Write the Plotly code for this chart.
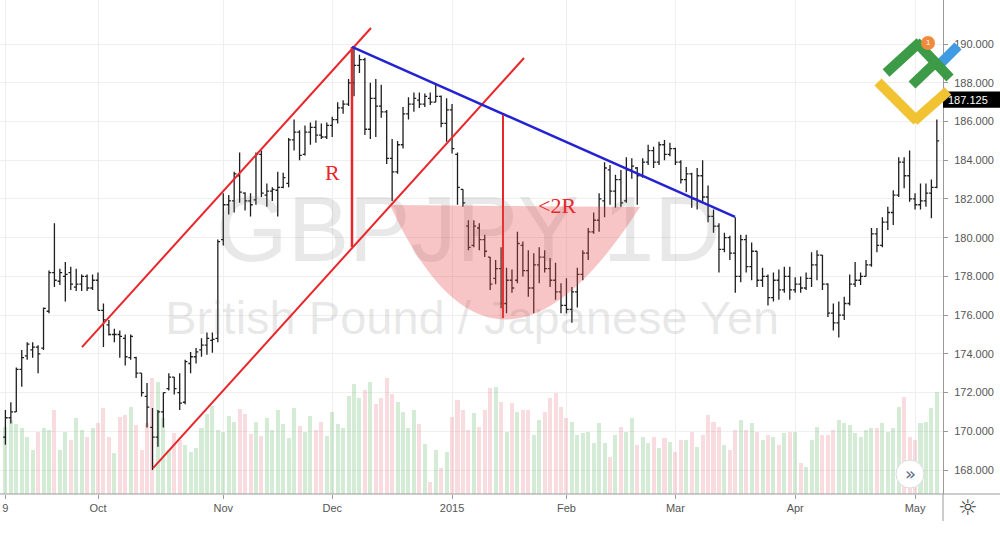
import pandas as pd
import plotly.graph_objects as go

# ---------------- data ----------------
days = pd.bdate_range("2014-09-08", "2015-05-07")
days = days[~days.isin(pd.to_datetime(["2014-12-25", "2015-01-01"]))]

open_ = [169.7, 170.7, 171.0, 173.2, 173.9, 174.2, 174.35, 174.3, 176.2, 178.2,
         177.75, 178.0, 178.2, 177.45, 177.6, 178.0, 177.4, 177.8, 176.25, 175.5,
         175.0, 175.0, 174.8, 173.8, 173.8, 173.0, 171.8, 170.2, 169.7, 171.0,
         172.2, 172.8, 172.0, 171.5, 173.5, 173.85, 174.2, 174.45, 174.7, 174.8,
         179.9, 181.7, 181.9, 183.2, 182.3, 181.9, 181.95, 184.3, 182.2, 182.4,
         182.45, 182.6, 182.8, 185.05, 185.45, 184.3, 185.45, 185.7, 185.3, 185.2,
         185.8, 186.1, 186.7, 186.9, 188.0, 188.9, 189.2, 185.6, 187.2, 186.8,
         186.5, 184.1, 183.4, 184.8, 186.4, 186.9, 187.1, 186.9, 187.2, 187.0,
         187.3, 185.9, 186.6, 184.3, 182.5, 180.6, 179.6, 180.5, 179.9, 179.0,
         177.9, 178.4, 176.6, 177.8, 177.8, 179.6, 178.3, 177.4, 178.6, 179.0,
         178.4, 177.8, 177.2, 176.5, 176.3, 177.2, 178.1, 179.2, 180.3, 180.9,
         181.9, 183.5, 182.4, 183.0, 181.9, 183.5, 183.6, 183.2, 183.9, 184.5,
         183.9, 184.8, 184.3, 184.6, 183.9, 183.0, 183.3, 182.0, 183.2, 182.1,
         181.1, 180.6, 179.4, 180.0, 179.2, 178.0, 179.9, 178.5, 179.3, 177.8,
         178.0, 176.9, 177.8, 177.3, 178.0, 177.3, 177.6, 177.4, 177.9, 178.6,
         179.1, 177.6, 176.1, 175.6, 176.0, 176.6, 177.6, 177.8, 178.0, 178.6,
         180.2, 179.6, 180.8, 181.3, 182.2, 183.9, 183.2, 182.0, 181.7, 181.9,
         182.3, 182.6]
high = [171.1, 171.5, 173.3, 174.2, 174.6, 174.6, 174.45, 176.4, 178.3, 180.75,
        178.4, 178.75, 178.5, 178.4, 178.1, 178.1, 178.1, 178.2, 176.6, 175.75,
        175.3, 175.2, 175.0, 175.0, 173.85, 173.0, 172.5, 171.2, 171.1, 172.0,
        173.0, 172.8, 173.0, 173.7, 174.1, 174.3, 174.8, 175.1, 175.1, 179.9,
        182.3, 182.2, 183.4, 184.4, 182.35, 182.3, 184.4, 184.5, 182.8, 182.6,
        183.4, 183.35, 185.15, 186.1, 185.55, 185.8, 185.95, 186.05, 185.9, 185.95,
        186.25, 187.0, 187.1, 188.2, 189.85, 189.45, 189.3, 188.0, 188.2, 187.9,
        186.6, 185.1, 185.0, 186.75, 187.25, 187.5, 187.5, 187.45, 187.5, 187.9,
        187.35, 187.2, 186.9, 184.4, 182.5, 180.9, 180.9, 180.75, 180.15, 179.0,
        178.85, 179.5, 178.45, 178.35, 180.3, 179.8, 179.35, 179.2, 179.5, 179.35,
        178.95, 178.7, 177.65, 177.9, 177.45, 178.45, 179.35, 180.5, 181.3, 182.3,
        183.9, 183.75, 183.25, 183.5, 184.15, 184.1, 183.65, 184.1, 184.8, 184.7,
        184.95, 185.05, 184.9, 184.65, 184.0, 183.65, 183.35, 183.6, 184.0, 182.7,
        181.45, 180.75, 180.25, 180.1, 181.05, 180.15, 180.15, 179.75, 179.3, 178.45,
        178.1, 178.2, 178.35, 178.5, 178.5, 177.95, 178.0, 178.2, 179.25, 179.35,
        179.1, 177.65, 176.6, 176.7, 176.95, 178.1, 178.75, 178.2, 178.85, 180.5,
        180.5, 181.05, 181.6, 182.45, 184.15, 184.15, 184.5, 182.3, 182.8, 182.8,
        183.0, 186.1]
low = [169.3, 170.4, 171.0, 172.3, 173.7, 173.8, 173.0, 174.2, 176.1, 177.45,
       177.55, 176.7, 177.3, 177.25, 177.25, 177.25, 177.3, 176.25, 174.35, 174.95,
       174.6, 173.8, 173.4, 173.7, 172.75, 171.8, 170.2, 168.0, 169.2, 170.2,
       172.1, 171.9, 171.1, 171.4, 173.0, 173.5, 173.85, 173.95, 174.05, 174.6,
       179.6, 181.2, 181.3, 181.8, 181.4, 181.1, 181.7, 182.1, 181.6, 181.9,
       181.1, 182.55, 182.6, 184.5, 184.0, 184.25, 184.8, 184.9, 185.1, 185.1,
       185.2, 185.9, 186.4, 186.8, 187.3, 188.5, 185.3, 185.1, 185.2, 186.2,
       183.8, 181.9, 183.3, 184.6, 186.1, 186.5, 186.7, 186.75, 186.85, 187.0,
       185.7, 184.95, 184.35, 181.7, 181.6, 179.35, 179.5, 179.35, 179.0, 177.3,
       177.6, 176.35, 176.1, 177.15, 177.65, 178.0, 176.95, 176.1, 177.65, 178.2,
       177.45, 176.8, 176.1, 176.1, 175.6, 176.4, 177.8, 178.85, 180.2, 180.3,
       181.05, 181.7, 181.55, 181.6, 181.8, 183.05, 181.7, 183.1, 183.75, 183.6,
       183.75, 184.0, 184.2, 183.75, 182.8, 182.35, 181.55, 181.45, 181.8, 180.8,
       180.25, 178.2, 179.25, 178.85, 177.15, 177.7, 178.2, 177.8, 177.45, 177.45,
       176.5, 176.7, 176.8, 177.15, 176.8, 177.15, 177.15, 177.3, 177.45, 177.8,
       177.3, 175.9, 175.2, 174.85, 175.75, 176.5, 177.45, 177.55, 178.0, 178.5,
       179.25, 179.5, 180.4, 180.65, 182.1, 182.55, 181.85, 181.45, 181.45, 181.6,
       181.0, 182.55]
close = [170.7, 171.0, 173.2, 173.8, 174.5, 174.35, 174.0, 176.35, 178.2, 177.8,
         178.2, 178.1, 177.6, 177.6, 178.0, 177.4, 177.8, 176.25, 175.75, 175.0,
         175.0, 174.9, 173.85, 174.9, 173.0, 172.0, 171.25, 169.7, 171.0, 172.0,
         172.8, 172.2, 171.45, 173.6, 173.85, 174.1, 174.45, 174.8, 174.75, 179.8,
         181.7, 181.9, 183.3, 182.35, 181.9, 181.7, 184.3, 182.3, 182.4, 182.5,
         182.6, 183.1, 185.05, 185.45, 184.25, 185.45, 185.7, 185.3, 185.2, 185.8,
         186.1, 186.7, 186.9, 188.0, 188.9, 189.2, 185.6, 187.2, 186.8, 186.5,
         184.1, 183.4, 184.8, 186.4, 186.9, 187.2, 186.9, 187.3, 187.0, 187.3,
         185.9, 186.6, 184.6, 182.6, 181.8, 179.5, 180.6, 179.9, 179.3, 177.6,
         178.4, 176.6, 177.8, 177.4, 179.7, 178.3, 177.4, 178.6, 179.0, 178.4,
         177.8, 177.2, 176.5, 176.3, 177.2, 178.1, 179.2, 180.3, 180.9, 182.0,
         183.6, 182.4, 183.0, 181.8, 183.5, 183.7, 183.2, 183.9, 184.5, 183.9,
         184.8, 184.3, 184.6, 183.9, 183.0, 183.3, 182.0, 183.2, 182.1, 181.1,
         180.6, 179.4, 180.0, 179.2, 178.0, 179.9, 178.5, 179.3, 177.8, 178.0,
         176.9, 177.8, 177.3, 178.0, 177.3, 177.6, 177.4, 177.9, 178.6, 179.1,
         177.6, 176.1, 175.6, 176.0, 176.6, 177.6, 177.8, 178.0, 178.6, 180.2,
         179.6, 180.8, 181.3, 182.2, 183.9, 183.2, 182.0, 181.7, 181.9, 182.3,
         182.6, 185.0]
volume = [67, 74, 70, 66, 57, 44, 62, 66, 64, 84, 44, 62, 54, 76, 64, 57, 66, 71,
          86, 57, 41, 77, 79, 87, 69, 44, 71, 116, 112, 76, 44, 61, 54, 49, 42, 46,
          66, 80, 88, 64, 62, 78, 72, 85, 80, 60, 72, 58, 76, 64, 84, 70, 56, 86,
          68, 62, 78, 64, 72, 58, 82, 70, 66, 98, 110, 96, 104, 112, 90, 96, 116,
          100, 92, 82, 66, 84, 70, 50,
          12, 44, 26, 42, 77, 94, 84, 64, 81, 67, 84, 106, 107, 92, 62, 91, 82, 84,
          84, 59, 74, 82, 96, 101, 87, 76, 72, 59, 61, 62, 51, 71, 51, 37, 59, 67,
          62, 76, 49, 57, 51,
          57, 46, 56, 52, 42, 54, 54, 62, 47, 59, 79, 72, 67, 49, 44, 64, 74, 64,
          71, 62, 54, 59, 57, 49, 61, 62, 62, 31, 27, 54, 67, 59, 59, 64, 74, 71,
          69, 61, 57, 64, 66, 66, 71, 62, 66, 87, 97, 57, 54, 71, 72, 86, 102]

last_price = 187.125
price_ticks = list(range(168, 191, 2))
month_labels = ["Oct", "Nov", "Dec", "2015", "Feb", "Mar", "Apr", "May"]
watermark = "GBPJPY 1D"
watermark_sub = "British Pound / Japanese Yen"

# drawings (bar index, price)
channel_upper = [(14.06, 174.35), (67.12, 190.83)]
channel_lower = [(27.10, 168.10), (95.21, 189.28)]
r_line = [(63.63, 189.85), (63.63, 179.52)]
down_line = [(63.63, 189.85), (133.95, 181.07)]
r2_line = [(91.35, 186.34), (91.35, 175.85)]
cup = [(70.6, 181.69), (89.88, 169.91), (116.5, 181.58)]   # start, control, end
r_label = (59.96, 183.39)
r2_label = (101.3, 181.64)

# ---------------- figure ----------------
idx = list(range(len(days)))
ticks_i, ticks_t = [0], ["9"]
for lab, m in zip(month_labels, [10, 11, 12, 1, 2, 3, 4, 5]):
    first = next(i for i, d in enumerate(days) if d.month == m)
    ticks_i.append(first)
    ticks_t.append(lab)

W, H = 1000, 546
ML, MR, MT, MB = 0, 57, 0, 52
PW, PH = W - ML - MR, H - MT - MB


def px(x, y):
    return (x - ML) / PW, 1 - (y - MT) / PH


fig = go.Figure()

vol_colors = ["rgba(76,175,80,0.24)" if c >= o else "rgba(230,110,120,0.24)"
              for o, c in zip(open_, close)]
fig.add_trace(go.Bar(x=idx, y=volume, marker_color=vol_colors, marker_line_width=0,
                     width=0.74, yaxis="y", hoverinfo="skip"))

fig.add_trace(go.Scatter(x=[85.0, 85.7], y=[180.0, 175.64], mode="text",
                         text=[watermark, watermark_sub],
                         textfont=dict(family="Liberation Sans", size=[92, 47],
                                       color="rgba(110,110,110,0.16)"),
                         yaxis="y2", hoverinfo="skip"))

fig.add_trace(go.Ohlc(x=idx, open=open_, high=high, low=low, close=close,
                      increasing_line_color="#1e1e1e", decreasing_line_color="#1e1e1e",
                      line_width=1.3, tickwidth=0.42, yaxis="y2", hoverinfo="skip"))

shapes = []
RED = "#e8262b"
BLUE = "#2323d2"
for (p0, p1), col, w in [(channel_upper, RED, 2), (channel_lower, RED, 2),
                         (r_line, RED, 2.5), (down_line, BLUE, 2.5), (r2_line, RED, 2)]:
    shapes.append(dict(type="line", xref="x", yref="y2", x0=p0[0], y0=p0[1],
                       x1=p1[0], y1=p1[1], line=dict(color=col, width=w)))
(a, b), (c1, c2), (e, f) = cup
shapes.append(dict(type="path", xref="x", yref="y2",
                   path=f"M {a},{b} Q {c1},{c2} {e},{f} Z",
                   fillcolor="rgba(232,80,80,0.33)", line=dict(width=0)))

# axis extensions, price tag
x1p, _ = px(1000, 0)
shapes.append(dict(type="line", xref="paper", yref="paper", x0=0, x1=x1p, y0=0, y1=0,
                   line=dict(color="#9a9a9a", width=1)))
_, yb = px(0, 521)
shapes.append(dict(type="line", xref="paper", yref="paper", x0=1, x1=1, y0=0, y1=yb,
                   line=dict(color="#9a9a9a", width=1)))
shapes.append(dict(type="rect", xref="paper", yref="y2", x0=1.0, x1=x1p,
                   y0=last_price - 0.42, y1=last_price + 0.42,
                   fillcolor="#000000", line=dict(width=0)))


# logo
def seg(p, q, col, w=10):
    (xa, ya), (xb, yb_) = px(*p), px(*q)
    return dict(type="line", xref="paper", yref="paper", x0=xa, y0=ya, x1=xb, y1=yb_,
                line=dict(color=col, width=w))


YEL, GRN, LBL = "#f1c232", "#3d9a46", "#3f9be2"
shapes += [seg((878, 82), (917, 121), YEL), seg((914, 121), (948, 91), YEL),
           seg((938, 66), (958, 46), LBL),
           seg((886, 73), (920, 42), GRN), seg((916, 42), (950, 78), GRN),
           seg((912, 85), (934, 64), GRN)]
cx, cy = px(928, 43)
rx, ry = 7 / PW, 7 / PH
shapes.append(dict(type="circle", xref="paper", yref="paper", x0=cx - rx, x1=cx + rx,
                   y0=cy - ry, y1=cy + ry, fillcolor="#f08a3c", line=dict(width=0)))
# scroll button
bx, by = px(910, 474)
rx, ry = 14 / PW, 14 / PH
shapes.append(dict(type="circle", xref="paper", yref="paper", x0=bx - rx, x1=bx + rx,
                   y0=by - ry, y1=by + ry, fillcolor="#ffffff",
                   line=dict(color="#dcdcdc", width=1)))

annotations = [
    dict(x=r_label[0], y=r_label[1], xref="x", yref="y2", text="R", showarrow=False,
         font=dict(family="Liberation Serif", size=22, color=RED)),
    dict(x=r2_label[0], y=r2_label[1], xref="x", yref="y2", text="<2R", showarrow=False,
         font=dict(family="Liberation Serif", size=22, color=RED)),
    dict(x=1.0, y=last_price, xref="paper", yref="y2", xanchor="left",
         yanchor="middle", xshift=3,
         text=f"{last_price:.3f}", showarrow=False,
         font=dict(family="Liberation Sans", size=11, color="#ffffff")),
    dict(x=cx, y=cy, xref="paper", yref="paper", xanchor="center", yanchor="middle",
         text="1", showarrow=False,
         font=dict(family="Liberation Sans", size=8, color="#ffffff")),
    dict(x=bx, y=by, xref="paper", yref="paper", xanchor="center", yanchor="middle",
         text="»", showarrow=False, yshift=1,
         font=dict(family="DejaVu Sans", size=18, color="#5a6b85")),
    dict(x=px(968, 0)[0], y=px(0, 508)[1], xref="paper", yref="paper",
         xanchor="center", yanchor="middle", text="☼",
         showarrow=False, font=dict(family="DejaVu Sans", size=22, color="#3a3a3a")),
]

x_lo = (0 - 5.4) / 5.447
x_hi = (943 - 5.4) / 5.447
y_lo = 168 + (470 - 494) / 19.36
y_hi = 168 + 470 / 19.36

fig.update_layout(
    width=W, height=H, margin=dict(l=ML, r=MR, t=MT, b=MB),
    paper_bgcolor="#ffffff", plot_bgcolor="#ffffff", showlegend=False,
    bargap=0, shapes=shapes, annotations=annotations,
    xaxis=dict(range=[x_lo, x_hi], tickvals=ticks_i, ticktext=ticks_t,
               showgrid=True, gridcolor="#efefef", zeroline=False,
               showline=False, ticks="outside", ticklen=4, tickcolor="#9a9a9a",
               tickfont=dict(family="Liberation Sans", size=11, color="#555555"),
               rangeslider=dict(visible=False), fixedrange=True),
    yaxis=dict(range=[0, max(volume) / 0.235], visible=False, fixedrange=True),
    yaxis2=dict(overlaying="y", side="right", range=[y_lo, y_hi],
                tickvals=price_ticks, tickformat=".3f",
                showgrid=True, gridcolor="#efefef", zeroline=False,
                showline=True, linecolor="#9a9a9a", ticks="outside", ticklen=4,
                tickcolor="#9a9a9a", ticklabelstandoff=4,
                tickfont=dict(family="Liberation Sans", size=11, color="#555555"),
                fixedrange=True),
)

fig.write_html("out.html", config={"displayModeBar": False},
               post_script="document.body.style.margin='0';")
